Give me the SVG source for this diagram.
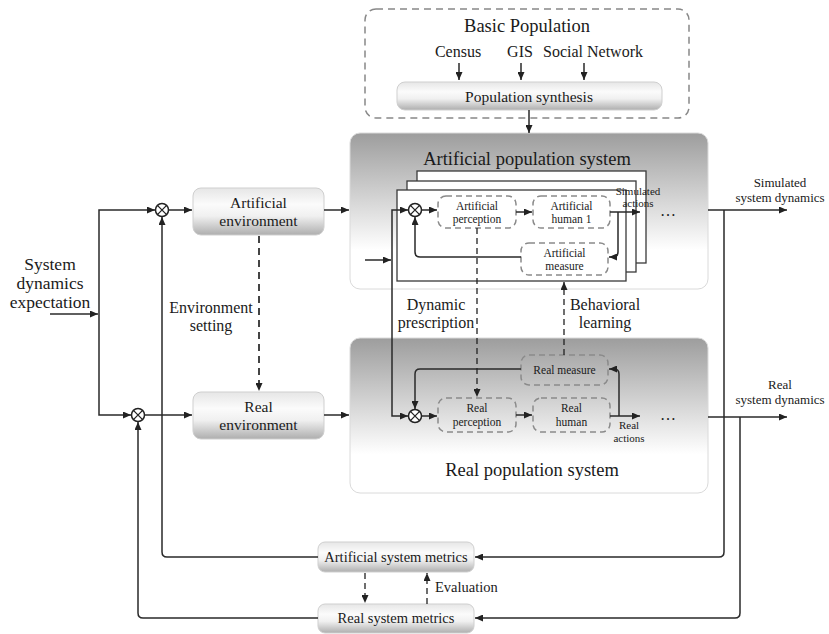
<svg xmlns="http://www.w3.org/2000/svg" width="829" height="634" viewBox="0 0 829 634" font-family="Liberation Serif, Times New Roman, DejaVu Serif, serif">
<defs>
<linearGradient id="btn" x1="0" y1="0" x2="0" y2="1">
<stop offset="0" stop-color="#e6e6e6"/>
<stop offset="0.35" stop-color="#fbfbfb"/>
<stop offset="0.6" stop-color="#f0f0f0"/>
<stop offset="1" stop-color="#aeaeae"/>
</linearGradient>
<linearGradient id="panel" x1="0" y1="0" x2="0" y2="1">
<stop offset="0" stop-color="#9d9d9d"/>
<stop offset="0.75" stop-color="#ffffff"/>
<stop offset="1" stop-color="#ffffff"/>
</linearGradient>
<marker id="ah" viewBox="0 0 8 7" refX="8" refY="3.5" markerWidth="8" markerHeight="7" markerUnits="userSpaceOnUse" orient="auto">
<path d="M0,0 L8,3.5 L0,7 z" fill="#222"/>
</marker>
<g id="sum">
<circle cx="0" cy="0" r="6.5" fill="#fff" stroke="#222" stroke-width="1.5"/>
<path d="M-4.6,-4.6 L4.6,4.6 M-4.6,4.6 L4.6,-4.6" stroke="#222" stroke-width="1.3"/>
</g>
</defs>
<style>
text{font-family:"Liberation Serif","Times New Roman","DejaVu Serif",serif;fill:#1a1a1a;text-anchor:middle}
.t18{font-size:18.5px}
.t17{font-size:17.5px}
.t16{font-size:16px}
.t15{font-size:15.5px}
.t14{font-size:14.5px}
.t13{font-size:13px}
.t12{font-size:11.5px}
.t11{font-size:11px}
.btn{fill:url(#btn);stroke:#cfcfcf;stroke-width:1}
.panel{fill:url(#panel);stroke:#dadada;stroke-width:1}
.frame{fill:#fff;stroke:#3a3a3a;stroke-width:1.3}
.dbox{fill:none;stroke:#8a8a8a;stroke-width:1.5;stroke-dasharray:6 4}
.ln{fill:none;stroke:#2a2a2a;stroke-width:1.5}
.arr{marker-end:url(#ah)}
.dash{fill:none;stroke:#222;stroke-width:1.3;stroke-dasharray:6 4}
.dashb{fill:none;stroke:#444;stroke-width:2;stroke-dasharray:7 5}
</style>

<g id="basic-population">
<rect x="365" y="9" width="324" height="109" rx="11" fill="none" stroke="#888" stroke-width="1.5" stroke-dasharray="7 5"/>
<text class="t18" x="527" y="32">Basic Population</text>
<text class="t16" x="458" y="57">Census</text>
<text class="t16" x="520" y="57">GIS</text>
<text class="t16" x="593" y="57">Social Network</text>
</g>
<g id="population-synthesis">
<rect class="btn" x="397" y="82" width="265" height="28" rx="8"/>
<text class="t15" x="529" y="102">Population synthesis</text>
</g>

<g id="artificial-population-system">
<rect class="panel" x="350" y="133" width="358" height="156" rx="10"/>
<text class="t18" x="527" y="165">Artificial population system</text>
<rect class="frame" x="417" y="171" width="229" height="92"/>
<rect class="frame" x="407" y="181" width="229" height="91"/>
<rect class="frame" x="397" y="190" width="229" height="91"/>
</g>
<g id="real-population-system">
<rect class="panel" x="350" y="338" width="358" height="155" rx="10"/>
<text class="t18" x="532" y="476">Real population system</text>
</g>

<g id="artificial-perception">
<rect class="dbox" x="438" y="196" width="78" height="32" rx="8"/>
<text class="t12" x="477" y="210">Artificial</text>
<text class="t12" x="477" y="223">perception</text>
</g>
<g id="artificial-human">
<rect class="dbox" x="533" y="196" width="77" height="32" rx="8"/>
<text class="t12" x="571.5" y="210">Artificial</text>
<text class="t12" x="571.5" y="223">human 1</text>
</g>
<g id="artificial-measure">
<rect class="dbox" x="521" y="243" width="87" height="32" rx="8"/>
<text class="t12" x="564.5" y="257">Artificial</text>
<text class="t12" x="564.5" y="270">measure</text>
</g>
<g id="real-measure">
<rect class="dbox" x="521" y="355" width="87" height="30" rx="8"/>
<text class="t12" x="564.5" y="374">Real measure</text>
</g>
<g id="real-perception">
<rect class="dbox" x="438" y="398" width="78" height="34" rx="8"/>
<text class="t12" x="477" y="412">Real</text>
<text class="t12" x="477" y="426">perception</text>
</g>
<g id="real-human">
<rect class="dbox" x="533" y="398" width="77" height="34" rx="8"/>
<text class="t12" x="571.5" y="412">Real</text>
<text class="t12" x="571.5" y="426">human</text>
</g>

<g id="artificial-environment">
<rect class="btn" x="193" y="188" width="131" height="47" rx="8"/>
<text class="t15" x="258.5" y="208">Artificial</text>
<text class="t15" x="258.5" y="226">environment</text>
</g>
<g id="real-environment">
<rect class="btn" x="193" y="392" width="131" height="47" rx="8"/>
<text class="t15" x="258.5" y="412">Real</text>
<text class="t15" x="258.5" y="430">environment</text>
</g>
<g id="artificial-system-metrics">
<rect class="btn" x="318" y="542" width="156" height="30" rx="7"/>
<text class="t14" x="396" y="562">Artificial system metrics</text>
</g>
<g id="real-system-metrics">
<rect class="btn" x="318" y="604" width="156" height="29" rx="7"/>
<text class="t14" x="396" y="623">Real system metrics</text>
</g>

<g id="sum-artificial-env"><use href="#sum" x="162" y="210"/></g>
<g id="sum-real-env"><use href="#sum" x="138" y="415"/></g>
<g id="sum-artificial"><use href="#sum" x="415" y="210"/></g>
<g id="sum-real"><use href="#sum" x="415" y="416"/></g>

<g id="connectors">
<path class="ln arr" d="M459,63 V80"/>
<path class="ln arr" d="M521,63 V80"/>
<path class="ln arr" d="M584,63 V80"/>
<path class="ln arr" d="M529,110 V133"/>

<path class="ln arr" d="M50,314 H98"/>
<path class="ln arr" d="M99,314 V210 H155"/>
<path class="ln arr" d="M99,314 V415 H131"/>
<path class="ln arr" d="M168.5,210 H192"/>
<path class="ln arr" d="M144.5,415 H192"/>
<path class="ln arr" d="M324,210 H349"/>
<path class="ln arr" d="M324,415 H349"/>
<path class="dashb arr" d="M259,236 V391"/>

<path class="ln arr" d="M365,260 H391"/>
<path class="ln arr" d="M392,260 V210 H408"/>
<path class="ln arr" d="M392,260 V416 H408"/>
<path class="ln arr" d="M421.5,210 H437"/>
<path class="ln arr" d="M516,212 H532"/>
<path class="ln arr" d="M610,212 H640"/>
<path class="ln arr" d="M618,212 V252 Q618,257 613,257 H609"/>
<path class="ln arr" d="M521,257 H420 Q415,257 415,252 V217"/>

<path class="ln arr" d="M421.5,416 H437"/>
<path class="ln arr" d="M516,415 H532"/>
<path class="ln arr" d="M610,416 H640"/>
<path class="ln arr" d="M619,416 V374 Q619,369 614,369 H609"/>
<path class="ln arr" d="M521,369 H420 Q415,369 415,374 V409"/>

<path class="dash arr" d="M477,228 V397"/>
<path class="dash arr" d="M564,355 V282"/>

<path class="ln arr" d="M708,210 H787"/>
<path class="ln arr" d="M708,417 H787"/>
<path class="ln arr" d="M724,210 V552 Q724,557 719,557 H475"/>
<path class="ln arr" d="M740,417 V613 Q740,618 735,618 H475"/>
<path class="ln arr" d="M318,557 H167 Q162,557 162,552 V217"/>
<path class="ln arr" d="M318,618 H143 Q138,618 138,613 V422"/>

<path class="dash arr" d="M365,573 V603"/>
<path class="dash arr" d="M427,604 V573"/>
</g>

<g id="labels">
<text class="t17" x="50" y="270">System</text>
<text class="t17" x="50" y="289">dynamics</text>
<text class="t17" x="50" y="308">expectation</text>
<text class="t16" x="211" y="313">Environment</text>
<text class="t16" x="211" y="331">setting</text>
<text class="t16" x="436" y="310">Dynamic</text>
<text class="t16" x="436" y="328">prescription</text>
<text class="t16" x="605" y="310">Behavioral</text>
<text class="t16" x="605" y="328">learning</text>
<text class="t11" x="638" y="195">Simulated</text>
<text class="t11" x="638" y="207">actions</text>
<text class="t11" x="629" y="429">Real</text>
<text class="t11" x="629" y="442">actions</text>
<text class="t16" x="668" y="216">…</text>
<text class="t16" x="668" y="420">…</text>
<text class="t13" x="780" y="187">Simulated</text>
<text class="t13" x="780" y="202">system dynamics</text>
<text class="t13" x="780" y="389">Real</text>
<text class="t13" x="780" y="404">system dynamics</text>
<text class="t14" x="435" y="592" style="text-anchor:start">Evaluation</text>
</g>
</svg>
